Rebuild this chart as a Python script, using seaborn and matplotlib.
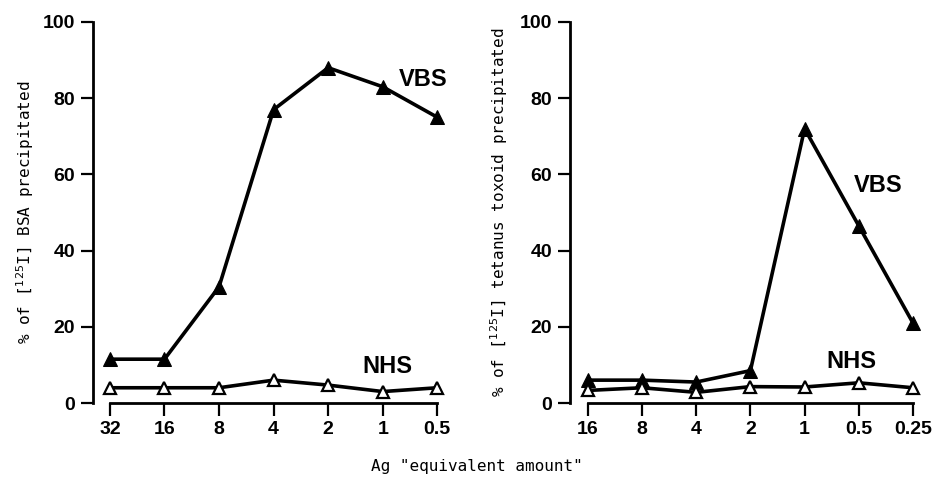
import numpy as np
import pandas as pd
import matplotlib
matplotlib.use("Agg")
import matplotlib.pyplot as plt
import seaborn as sns

sns.set_style("ticks", {"text.color": "black", "axes.labelcolor": "black",
                        "xtick.color": "black", "ytick.color": "black",
                        "axes.edgecolor": "black"})

# left panel: BSA
bsa_labels = ["32", "16", "8", "4", "2", "1", "0.5"]
bsa_vbs = [11.5, 11.5, 30.5, 77, 88, 83, 75]
bsa_nhs = [4, 4, 4, 6, 4.7, 3, 4]

# right panel: tetanus toxoid
tt_labels = ["16", "8", "4", "2", "1", "0.5", "0.25"]
tt_vbs = [6, 6, 5.5, 8.5, 72, 46.5, 21]
tt_nhs = [3.3, 4, 2.8, 4.3, 4.2, 5.3, 4]

yticks = [0, 20, 40, 60, 80, 100]

tick_font = {"family": ["Liberation Sans", "DejaVu Sans"], "weight": "bold", "size": 14}
lab_font = {"family": ["DejaVu Sans Mono"], "size": 11.5}
big_font = {"family": ["Liberation Sans", "DejaVu Sans"], "weight": "bold", "size": 17}

fig = plt.figure(figsize=(9.35, 4.78), dpi=100)
ax1 = fig.add_axes([93 / 935, 75 / 478, 347 / 935, 381 / 478])
ax2 = fig.add_axes([570 / 935, 75 / 478, 350 / 935, 381 / 478])


def draw(ax, labels, vbs, nhs, xlim, ylabel, pad):
    df = pd.DataFrame({"pos": np.arange(len(labels)), "vbs": vbs, "nhs": nhs})
    sns.lineplot(data=df, x="pos", y="vbs", ax=ax, color="black", lw=2.6,
                 marker="^", markersize=10, markeredgecolor="black",
                 markerfacecolor="black", clip_on=False, zorder=3)
    sns.lineplot(data=df, x="pos", y="nhs", ax=ax, color="black", lw=2.6,
                 marker="^", markersize=8, markeredgecolor="black",
                 markerfacecolor="white", markeredgewidth=1.6,
                 clip_on=False, zorder=4)
    ax.set_xlim(*xlim)
    ax.set_ylim(0, 100)
    ax.set_xticks(df["pos"])
    ax.set_xticklabels(labels, fontdict=tick_font)
    ax.set_yticks(yticks)
    ax.set_yticklabels([str(v) for v in yticks], fontdict=tick_font)
    ax.tick_params(length=9, width=1.6, color="black", pad=4)
    for s in ["top", "right"]:
        ax.spines[s].set_visible(False)
    ax.spines["left"].set_bounds(0, 100)
    ax.spines["bottom"].set_bounds(0, len(labels) - 1)
    ax.spines["left"].set_linewidth(2)
    ax.spines["bottom"].set_linewidth(2)
    ax.set_xlabel("")
    ax.set_ylabel(ylabel, fontdict=lab_font, labelpad=pad)


draw(ax1, bsa_labels, bsa_vbs, bsa_nhs, (-0.31, 6.05),
     "% of [$^{125}$I] BSA precipitated", 5)
draw(ax2, tt_labels, tt_vbs, tt_nhs, (-0.33, 6.13),
     "% of [$^{125}$I] tetanus toxoid precipitated", 7)

ax1.text(5.3, 85, "VBS", fontdict=big_font, ha="left", va="center")
ax1.text(4.62, 9.5, "NHS", fontdict=big_font, ha="left", va="center")
ax2.text(4.91, 57, "VBS", fontdict=big_font, ha="left", va="center")
ax2.text(4.4, 11, "NHS", fontdict=big_font, ha="left", va="center")

fig.text(477 / 935, 1 - 466 / 478, 'Ag "equivalent amount"', fontdict=lab_font,
         ha="center", va="center")

fig.savefig("out.png", dpi=100)
